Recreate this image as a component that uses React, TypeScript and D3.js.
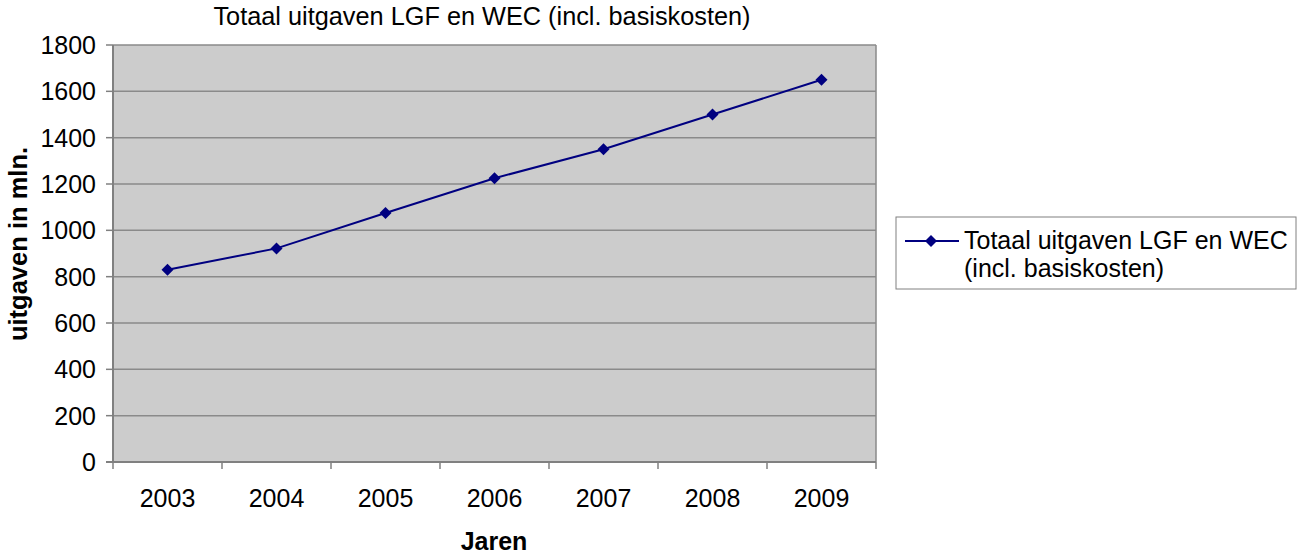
import React from "react";
import * as d3 from "d3";

const years = ["2003", "2004", "2005", "2006", "2007", "2008", "2009"];
const values = [830, 922, 1075, 1225, 1350, 1500, 1650];
const yTicks = [0, 200, 400, 600, 800, 1000, 1200, 1400, 1600, 1800];
const title = "Totaal uitgaven LGF en WEC (incl. basiskosten)";
const legendLines = ["Totaal uitgaven LGF en WEC", "(incl. basiskosten)"];
const yTitle = "uitgaven in mln.";
const xTitle = "Jaren";

const W = 1299, H = 556;
const plot = { left: 113, right: 876, top: 45, bottom: 462 };
const font = "'Liberation Sans', Arial, Helvetica, sans-serif";
const navy = "#000080";

export default function App() {
  const x = d3.scaleBand().domain(years).range([plot.left, plot.right]);
  const y = d3.scaleLinear().domain([0, 1800]).range([plot.bottom, plot.top]);
  const line = d3
    .line<number>()
    .x((_, i) => (x(years[i]) as number) + x.bandwidth() / 2)
    .y((d) => y(d));
  const diamond = (cx: number, cy: number, r = 6) =>
    `M${cx},${cy - r}L${cx + r},${cy}L${cx},${cy + r}L${cx - r},${cy}Z`;
  const bounds = years.map((yr) => x(yr) as number).concat([plot.right]);

  return (
    <svg
      width={W}
      height={H}
      style={{ position: "absolute", left: 0, top: 0, display: "block", background: "#fff" }}
      fontFamily={font}
    >
      <text x={482} y={25} textAnchor="middle" fontSize={25.3} fill="#000">
        {title}
      </text>
      <rect
        x={plot.left}
        y={plot.top}
        width={plot.right - plot.left}
        height={plot.bottom - plot.top}
        fill="#cccccc"
      />
      {yTicks.map((t) => (
        <g key={t}>
          {t > 0 && (
            <line x1={plot.left} x2={plot.right} y1={y(t)} y2={y(t)} stroke="#8a8a8a" strokeWidth={1.5} />
          )}
          <line x1={plot.left - 7} x2={plot.left} y1={y(t)} y2={y(t)} stroke="#808080" strokeWidth={1.5} />
          <text x={96} y={y(t)} dy="0.36em" textAnchor="end" fontSize={25} fill="#000">
            {t}
          </text>
        </g>
      ))}
      <line x1={plot.right} x2={plot.right} y1={plot.top} y2={plot.bottom} stroke="#8a8a8a" strokeWidth={1.5} />
      <line x1={plot.left} x2={plot.left} y1={plot.top} y2={plot.bottom} stroke="#808080" strokeWidth={2} />
      <line x1={plot.left - 7} x2={plot.right} y1={plot.bottom} y2={plot.bottom} stroke="#808080" strokeWidth={2} />
      {bounds.map((b, i) => (
        <line key={i} x1={b} x2={b} y1={plot.bottom} y2={plot.bottom + 7} stroke="#808080" strokeWidth={1.5} />
      ))}
      {years.map((yr) => (
        <text
          key={yr}
          x={(x(yr) as number) + x.bandwidth() / 2}
          y={498}
          dy="0.36em"
          textAnchor="middle"
          fontSize={25}
          fill="#000"
        >
          {yr}
        </text>
      ))}
      <path d={line(values) as string} fill="none" stroke={navy} strokeWidth={2} />
      {values.map((v, i) => (
        <path
          key={i}
          d={diamond((x(years[i]) as number) + x.bandwidth() / 2, y(v))}
          fill={navy}
        />
      ))}
      <text x={494} y={550} textAnchor="middle" fontSize={25} fontWeight="bold" fill="#000">
        {xTitle}
      </text>
      <text
        transform={`translate(27,244) rotate(-90)`}
        textAnchor="middle"
        fontSize={25.5}
        fontWeight="bold"
        fill="#000"
      >
        {yTitle}
      </text>
      <rect x={896} y={217} width={400} height={72} fill="#fff" stroke="#808080" strokeWidth={1} />
      <line x1={905} x2={959} y1={241} y2={241} stroke={navy} strokeWidth={2} />
      <path d={diamond(931, 241)} fill={navy} />
      {legendLines.map((l, i) => (
        <text key={i} x={964} y={249 + i * 28} fontSize={25} fill="#000">
          {l}
        </text>
      ))}
    </svg>
  );
}
